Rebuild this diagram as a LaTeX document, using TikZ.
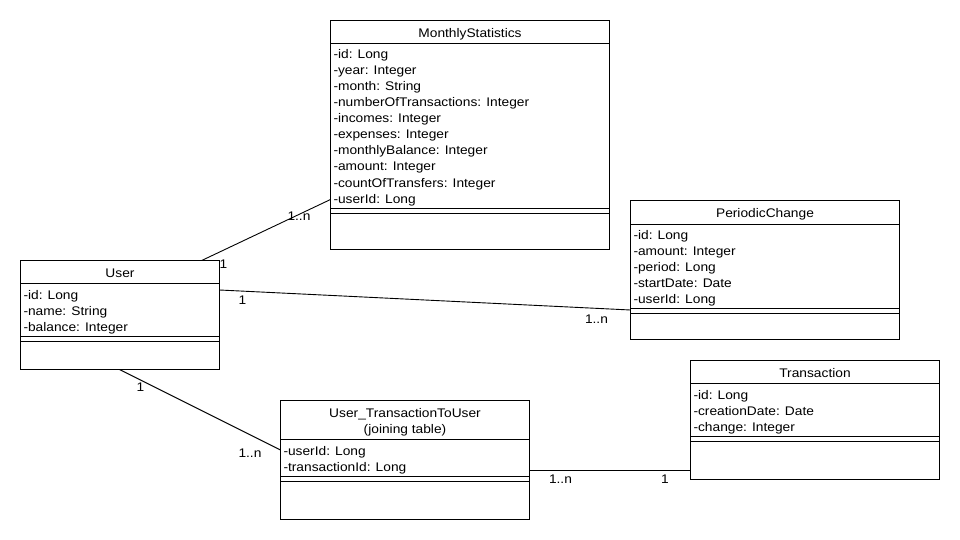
\documentclass[tikz,border=0pt]{standalone}
\usepackage{fontspec}
\setmainfont{Liberation Sans}[FakeStretch=1.1]
\begin{document}
\begin{tikzpicture}[x=1pt,y=-1pt,
  every node/.style={font=\fontsize{12.5}{16}\selectfont, inner sep=0pt, outer sep=0pt},
  box/.style={draw, line width=0.9pt, anchor=north west, fill=none},
  sep/.style={line width=0.9pt},
  conn/.style={line width=0.9pt},
  title/.style={anchor=base},
  attr/.style={anchor=base west},
  mult/.style={anchor=base west}]
\fill[white] (0,0) rectangle (960,540);
\useasboundingbox (0,0) rectangle (960,540);

% ---------- User ----------
\node[box, minimum width=199pt, minimum height=109pt] (user) at (20.5,260.5) {};
\node[title] (user-t) at ([yshift=-17pt]user.north) {User};
\draw[sep] ([yshift=-23pt]user.north west) -- ([yshift=-23pt]user.north east);
\foreach \t [count=\i] in {-id: Long, -name: String, -balance: Integer}
  \node[attr] (user-a\i) at ([xshift=3pt,yshift={-38.5-16*(\i-1)}]user.north west) {\t};
\draw[sep] ([yshift=-76pt]user.north west) -- ([yshift=-76pt]user.north east);
\draw[sep] ([yshift=-81pt]user.north west) -- ([yshift=-81pt]user.north east);

% ---------- MonthlyStatistics ----------
\node[box, minimum width=279pt, minimum height=229pt] (ms) at (330.5,20.5) {};
\node[title] (ms-t) at ([yshift=-17pt]ms.north) {MonthlyStatistics};
\draw[sep] ([yshift=-23pt]ms.north west) -- ([yshift=-23pt]ms.north east);
\foreach \t [count=\i] in {-id: Long, -year: Integer, -month: String, -numberOfTransactions: Integer, -incomes: Integer, -expenses: Integer, -monthlyBalance: Integer, -amount: Integer, -countOfTransfers: Integer, -userId: Long}
  \node[attr] (ms-a\i) at ([xshift=3pt,yshift={-38.5-16*(\i-1)}]ms.north west) {\t};
\draw[sep] ([yshift=-188pt]ms.north west) -- ([yshift=-188pt]ms.north east);
\draw[sep] ([yshift=-193pt]ms.north west) -- ([yshift=-193pt]ms.north east);

% ---------- PeriodicChange ----------
\node[box, minimum width=269pt, minimum height=139pt] (pc) at (630.5,200.5) {};
\node[title] (pc-t) at ([yshift=-17pt]pc.north) {PeriodicChange};
\draw[sep] ([yshift=-23.5pt]pc.north west) -- ([yshift=-23.5pt]pc.north east);
\foreach \t [count=\i] in {-id: Long, -amount: Integer, -period: Long, -startDate: Date, -userId: Long}
  \node[attr] (pc-a\i) at ([xshift=3pt,yshift={-39-16*(\i-1)}]pc.north west) {\t};
\draw[sep] ([yshift=-108pt]pc.north west) -- ([yshift=-108pt]pc.north east);
\draw[sep] ([yshift=-113pt]pc.north west) -- ([yshift=-113pt]pc.north east);

% ---------- Transaction ----------
\node[box, minimum width=249pt, minimum height=119pt] (tr) at (690.5,360.5) {};
\node[title] (tr-t) at ([yshift=-17pt]tr.north) {Transaction};
\draw[sep] ([yshift=-23pt]tr.north west) -- ([yshift=-23pt]tr.north east);
\foreach \t [count=\i] in {-id: Long, -creationDate: Date, -change: Integer}
  \node[attr] (tr-a\i) at ([xshift=3pt,yshift={-38.5-16*(\i-1)}]tr.north west) {\t};
\draw[sep] ([yshift=-76pt]tr.north west) -- ([yshift=-76pt]tr.north east);
\draw[sep] ([yshift=-81pt]tr.north west) -- ([yshift=-81pt]tr.north east);

% ---------- User_TransactionToUser ----------
\node[box, minimum width=249pt, minimum height=119pt] (ut) at (280.5,400.5) {};
\node[title] (ut-t1) at ([yshift=-16.5pt]ut.north) {User\_TransactionToUser};
\node[title] (ut-t2) at ([yshift=-32.5pt]ut.north) {(joining table)};
\draw[sep] ([yshift=-39pt]ut.north west) -- ([yshift=-39pt]ut.north east);
\foreach \t [count=\i] in {-userId: Long, -transactionId: Long}
  \node[attr] (ut-a\i) at ([xshift=3pt,yshift={-54.5-16*(\i-1)}]ut.north west) {\t};
\draw[sep] ([yshift=-76pt]ut.north west) -- ([yshift=-76pt]ut.north east);
\draw[sep] ([yshift=-81pt]ut.north west) -- ([yshift=-81pt]ut.north east);

% ---------- connectors ----------
\draw[conn] ([xshift=181.2pt]user.north west) -- ([yshift=-179pt]ms.north west);
\draw[conn] ([yshift=-29.5pt]user.north east) -- ([yshift=-109.5pt]pc.north west);
\draw[conn] ([xshift=99pt]user.south west) -- ([yshift=-49.5pt]ut.north west);
\draw[conn] ([yshift=-69.5pt]ut.north east) -- ([yshift=-109.5pt]tr.north west);

% ---------- multiplicities ----------
\node[mult] (m1) at (287.5,220) {1..n};
\node[mult] (m2) at (219.5,268) {1};
\node[mult] (m3) at (238.5,304.5) {1};
\node[mult] (m4) at (585,323) {1..n};
\node[mult] (m5) at (136.5,391) {1};
\node[mult] (m6) at (238.5,457) {1..n};
\node[mult] (m7) at (549,483) {1..n};
\node[mult] (m8) at (661,483) {1};
\end{tikzpicture}
\end{document}
